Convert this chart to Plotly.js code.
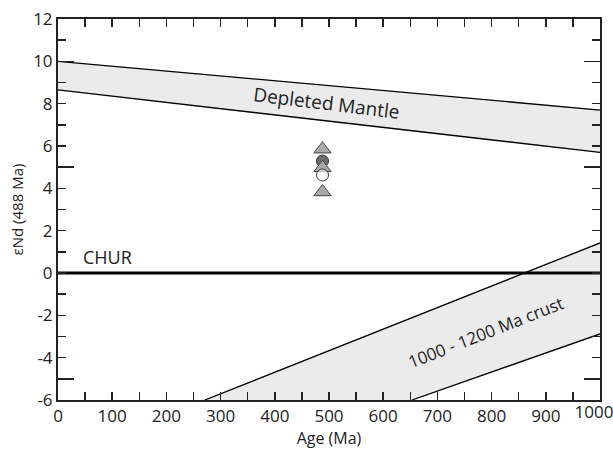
<!DOCTYPE html>
<html><head><meta charset="utf-8">
<script src="https://cdn.plot.ly/plotly-3.0.1.min.js"></script>
<style>html,body{margin:0;padding:0;background:#fff}#chart{width:613px;height:450px}</style>
</head><body><div id="chart"></div>
<script>
// Depleted mantle band
const dmX = [0, 1000];
const dmUpperY = [10.0, 7.7];
const dmLowerY = [8.65, 5.7];
// 1000-1200 Ma crust band
const crustUpperX = [271, 1000];
const crustUpperY = [-6, 1.42];
const crustLowerX = [653, 1000];
const crustLowerY = [-6, -2.88];
// CHUR
const churX = [0, 1000];
const churY = [0, 0];
// Samples at 488 Ma
const triX = [488, 488, 488];
const triY = [5.85, 4.97, 3.83];
const darkCircX = [488];
const darkCircY = [5.29];
const whiteCircX = [488];
const whiteCircY = [4.63];
// Tick labels
const xTickVals = [0,50,100,150,200,250,300,350,400,450,500,550,600,650,700,750,800,850,900,950,1000];
const xTickText = ['0','','100','','200','','300','','400','','500','','600','','700','','800','','900','',''];
const xEndTickVals = [1000];
const xEndTickText = ['1000'];
const yTickVals = [-6,-5,-4,-3,-2,-1,0,1,2,3,4,5,6,7,8,9,10,11,12];
const yTickText = ['-6','','-4','','-2','','0','','2','','4','','6','','8','','10','','12'];
const yMajorTickVals = [-5, 5, 10];

const fillCol = '#ebebeb';
const FONT = 'Open Sans, Liberation Sans, sans-serif';
const TICKFONT = {size: 17, family: FONT, color: '#222'};

const crustPolyX = crustUpperX.concat(crustLowerX.slice().reverse());
const crustPolyY = crustUpperY.concat(crustLowerY.slice().reverse());

const traces = [
  {x: dmX, y: dmLowerY, mode: 'lines', line: {color: '#000', width: 1.3}, hoverinfo: 'skip'},
  {x: dmX, y: dmUpperY, mode: 'lines', line: {color: '#000', width: 1.3}, fill: 'tonexty', fillcolor: fillCol, hoverinfo: 'skip'},
  {x: crustPolyX, y: crustPolyY, mode: 'lines', line: {width: 0}, fill: 'toself', fillcolor: fillCol, hoverinfo: 'skip'},
  {x: crustUpperX, y: crustUpperY, mode: 'lines', line: {color: '#000', width: 1.3}, hoverinfo: 'skip'},
  {x: crustLowerX, y: crustLowerY, mode: 'lines', line: {color: '#000', width: 1.3}, hoverinfo: 'skip'},
  {x: churX, y: churY, mode: 'lines', line: {color: '#000', width: 3}, hoverinfo: 'skip'},
  {x: darkCircX, y: darkCircY, mode: 'markers', marker: {symbol: 'circle', size: 12, color: '#6e6e6e', line: {color: '#333', width: 1}}},
  {x: triX, y: triY, mode: 'markers', marker: {symbol: 'triangle-up', size: 15, color: '#a9a9a9', line: {color: '#444', width: 1}}},
  {x: whiteCircX, y: whiteCircY, mode: 'markers', marker: {symbol: 'circle', size: 12, color: 'rgba(255,255,255,0.6)', line: {color: '#333', width: 1}}},
  {x: [0], y: [0], yaxis: 'y2', mode: 'markers', marker: {opacity: 0}, hoverinfo: 'skip'},
  {x: [0], y: [0], xaxis: 'x2', mode: 'markers', marker: {opacity: 0}, hoverinfo: 'skip'}
];

const layout = {
  width: 613, height: 450,
  margin: {l: 58, r: 13, t: 19, b: 50},
  showlegend: false,
  paper_bgcolor: '#fff', plot_bgcolor: '#fff',
  font: {family: FONT, color: '#222', size: 16},
  xaxis: {
    range: [0, 1000.001], tickmode: 'array', tickvals: xTickVals, ticktext: xTickText,
    ticks: 'inside', ticklen: 8, tickwidth: 1.5, tickcolor: '#222',
    showline: true, linecolor: '#222', linewidth: 2, mirror: 'ticks',
    showgrid: false, zeroline: false,
    tickfont: TICKFONT,
    title: {text: 'Age (Ma)', font: {size: 16, family: FONT, color: '#222'}, standoff: 1}
  },
  xaxis2: {
    range: [0, 1000.001], overlaying: 'x', side: 'bottom', tickmode: 'array',
    tickvals: xEndTickVals, ticktext: xEndTickText,
    ticks: '', showline: false, showgrid: false, zeroline: false,
    ticklabeloverflow: 'allow', ticklabelshift: -6, ticklabelstandoff: 0,
    tickfont: TICKFONT
  },
  yaxis: {
    range: [-6, 12.001], tickmode: 'array', tickvals: yTickVals, ticktext: yTickText,
    ticks: 'inside', ticklen: 8, tickwidth: 1.5, tickcolor: '#222',
    showline: true, linecolor: '#222', linewidth: 2, mirror: 'ticks',
    showgrid: false, zeroline: false,
    tickfont: TICKFONT,
    title: {text: 'εNd (488 Ma)', font: {size: 15, family: FONT, color: '#222'}, standoff: 6}
  },
  yaxis2: {
    range: [-6, 12.001], overlaying: 'y', tickmode: 'array', tickvals: yMajorTickVals,
    ticks: 'inside', ticklen: 16, tickwidth: 1.5, tickcolor: '#222',
    showticklabels: false, showline: false, mirror: 'ticks',
    showgrid: false, zeroline: false
  },
  annotations: [
    {x: 496, y: 8.03, xref: 'x', yref: 'y', text: 'Depleted Mantle', showarrow: false, textangle: 7, font: {size: 19, family: FONT, color: '#222'}},
    {x: 788, y: -2.8, xref: 'x', yref: 'y', text: '1000 - 1200 Ma crust', showarrow: false, textangle: -21.5, font: {size: 17, family: FONT, color: '#222'}},
    {x: 92, y: 0.75, xref: 'x', yref: 'y', text: 'CHUR', showarrow: false, font: {size: 18, family: FONT, color: '#222'}}
  ]
};
Plotly.newPlot('chart', traces, layout, {displayModeBar: false, staticPlot: true});
</script></body></html>
